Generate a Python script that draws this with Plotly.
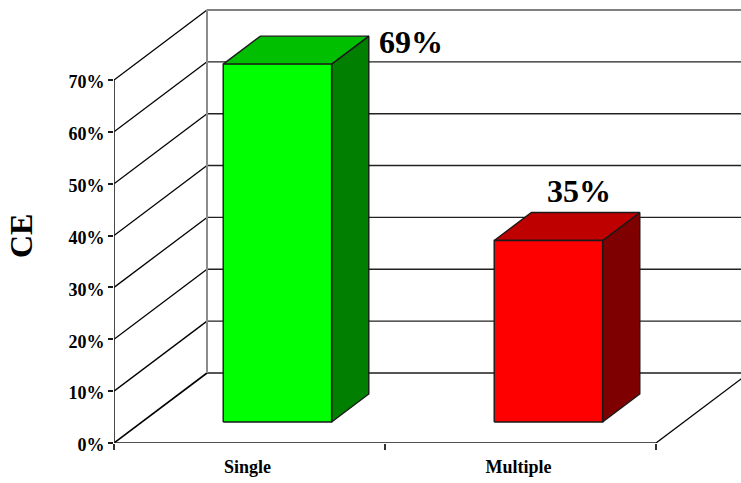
import plotly.graph_objects as go

# Chart data
categories = ["Single", "Multiple"]
ce_percent = [69, 35]
front_colors = ["#00FF00", "#FF0000"]
top_colors = ["#00BE00", "#BE0000"]
side_colors = ["#007F00", "#7F0000"]
tick_values = [0, 10, 20, 30, 40, 50, 60, 70]
tick_labels = ["0%", "10%", "20%", "30%", "40%", "50%", "60%", "70%"]

# Oblique projection: a unit of depth shifts a point right and up, in axis units
DEPTH_X = 93 / 271
DEPTH_Y = 70 / 5.186
BAR_WIDTH = 0.4
BAR_FRONT = 0.3
BAR_BACK = 0.7
AXIS_TOP = max(tick_values)
N = len(categories)


def project(x, value, depth):
    return x + depth * DEPTH_X, value + depth * DEPTH_Y


def segment(p, q, color, width):
    return go.Scatter(
        x=[p[0], q[0]], y=[p[1], q[1]], mode="lines",
        line=dict(color=color, width=width), hoverinfo="skip", showlegend=False,
    )


def face(corners, fill):
    xs = [c[0] for c in corners] + [corners[0][0]]
    ys = [c[1] for c in corners] + [corners[0][1]]
    return go.Scatter(
        x=xs, y=ys, mode="lines", fill="toself", fillcolor=fill,
        line=dict(color="#1a1a1a", width=1.4), hoverinfo="skip", showlegend=False,
    )


fig = go.Figure()

# Back wall and side wall grid
for v in tick_values:
    back = project(0, v, 1)
    right = project(N, v, 1)
    wall_color = "#808080" if v == AXIS_TOP else ("#555555" if v == 0 else "#222222")
    fig.add_trace(segment(back, right, wall_color, 2 if v in (0, AXIS_TOP) else 1.4))
    fig.add_trace(segment(project(0, v, 0), back, "#000000", 1.6 if v == 0 else 1.3))

fig.add_trace(segment(project(0, 0, 1), project(0, AXIS_TOP, 1), "#8c8c8c", 2))

# Front axis lines and the right edge of the floor
fig.add_trace(segment(project(0, 0, 0), project(0, AXIS_TOP, 0), "#1a1a1a", 1.6))
fig.add_trace(segment(project(0, 0, 0), project(N, 0, 0), "#1a1a1a", 1.6))
fig.add_trace(segment(project(N, 0, 0), project(N, 0, 1), "#000000", 1.3))

# Bars: side, top and front faces
for i, value in enumerate(ce_percent):
    left = i + 0.5 - BAR_WIDTH / 2
    right = i + 0.5 + BAR_WIDTH / 2
    fig.add_trace(face([project(right, 0, BAR_FRONT), project(right, 0, BAR_BACK),
                        project(right, value, BAR_BACK), project(right, value, BAR_FRONT)],
                       side_colors[i]))
    fig.add_trace(face([project(left, value, BAR_FRONT), project(right, value, BAR_FRONT),
                        project(right, value, BAR_BACK), project(left, value, BAR_BACK)],
                       top_colors[i]))
    fig.add_trace(face([project(left, 0, BAR_FRONT), project(right, 0, BAR_FRONT),
                        project(right, value, BAR_FRONT), project(left, value, BAR_FRONT)],
                       front_colors[i]))

# Value labels, offset from each bar's top back corner
label_shift = [(42, -6), (-61, 21)]
annotations = []
for i, value in enumerate(ce_percent):
    ax, ay = project(i + 0.5 + BAR_WIDTH / 2, value, BAR_BACK)
    annotations.append(dict(
        x=ax, y=ay, xref="x", yref="y", text=f"{value}%", showarrow=False,
        xanchor="center", yanchor="middle",
        xshift=label_shift[i][0], yshift=label_shift[i][1],
        font=dict(family="Liberation Serif", size=32, color="#000000", weight="bold"),
    ))
annotations.append(dict(
    x=(21 - 114) / 627, y=(443 - 236) / 443, xref="paper", yref="paper", text="CE",
    textangle=-90, showarrow=False, xanchor="center", yanchor="middle",
    font=dict(family="Liberation Serif", size=32, color="#000000", weight="bold"),
))

tick_font = dict(family="Liberation Serif", size=18, color="#000000", weight="bold")

fig.update_layout(
    width=741, height=483,
    margin=dict(l=114, r=0, t=0, b=40, autoexpand=False),
    paper_bgcolor="white", plot_bgcolor="white",
    showlegend=False,
    annotations=annotations,
    xaxis=dict(
        range=[0, 627 / 271], showgrid=False, zeroline=False, showline=False,
        tickmode="array", tickvals=[i + 0.5 for i in range(N)], ticktext=categories,
        ticks="outside", ticklen=7, tickcolor="rgba(0,0,0,0)", tickfont=tick_font,
        ticklabelshift=-2,
        minor=dict(tickmode="array", tickvals=list(range(N + 1)), ticks="outside",
                   ticklen=6, tickwidth=1.5, tickcolor="#333333", showgrid=False),
    ),
    yaxis=dict(
        range=[0, 443 / 5.186], showgrid=False, zeroline=False, showline=False,
        tickmode="array", tickvals=tick_values, ticktext=tick_labels,
        ticks="outside", ticklen=5, tickwidth=1.5, tickcolor="#1a1a1a", tickfont=tick_font,
        ticklabelshift=2,
    ),
)

fig.write_html("out.html")
